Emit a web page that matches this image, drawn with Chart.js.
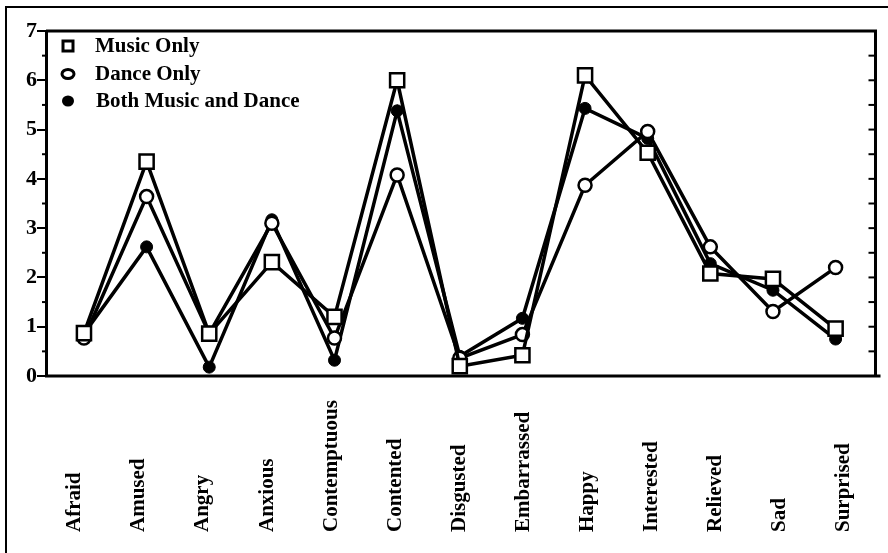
<!DOCTYPE html>
<html>
<head>
<meta charset="utf-8">
<script src="https://cdn.jsdelivr.net/npm/chart.js@4.4.0/dist/chart.umd.min.js"></script>
<style>
  html, body { margin: 0; padding: 0; background: #fff; }
  #wrap { width: 888px; height: 553px; }
</style>
</head>
<body>
<div id="wrap"><canvas id="myChart" width="888" height="553"></canvas></div>
<script>
const emotions = ['Afraid', 'Amused', 'Angry', 'Anxious', 'Contemptuous', 'Contented', 'Disgusted',
  'Embarrassed', 'Happy', 'Interested', 'Relieved', 'Sad', 'Surprised'];

const musicOnly = [0.87, 4.35, 0.86, 2.31, 1.2, 6.0, 0.2, 0.42, 6.1, 4.53, 2.08, 1.97, 0.96];
const danceOnly = [0.77, 3.64, 0.86, 3.1, 0.77, 4.08, 0.36, 0.84, 3.87, 4.96, 2.62, 1.31, 2.2];
const bothMusicDance = [0.86, 2.62, 0.18, 3.17, 0.32, 5.38, 0.4, 1.17, 5.43, 4.82, 2.28, 1.74, 0.75];

const yTicks = [0, 1, 2, 3, 4, 5, 6, 7];

const serif = '"Liberation Serif", "Times New Roman", serif';

function toPoints(arr) {
  return arr.map((v, i) => ({ x: i, y: v }));
}

// frame, borders, minor ticks, legend and rotated category labels
const decorations = {
  id: 'decorations',
  afterDraw(chart) {
    const c = chart.ctx;
    const a = chart.chartArea;
    const y = chart.scales.y;
    const xl = chart.scales.xl;
    c.save();
    c.strokeStyle = '#000';
    c.fillStyle = '#000';

    // outer frame (top + left)
    c.lineWidth = 2;
    c.beginPath();
    c.moveTo(6, 553);
    c.lineTo(6, 7);
    c.lineTo(888, 7);
    c.stroke();

    // plot box
    c.lineWidth = 3;
    c.beginPath();
    c.moveTo(a.left, a.top);
    c.lineTo(a.right, a.top);
    c.lineTo(a.right, a.bottom);
    c.stroke();
    c.beginPath();
    c.moveTo(a.left - 1, a.bottom);
    c.lineTo(a.right + 5, a.bottom);
    c.stroke();

    // minor ticks left, all half ticks right
    c.lineWidth = 2;
    for (let v = 0.5; v < 7; v += 0.5) {
      const py = y.getPixelForValue(v);
      if (v % 1 !== 0) {
        c.beginPath();
        c.moveTo(a.left - 4, py);
        c.lineTo(a.left, py);
        c.stroke();
      }
      c.beginPath();
      c.moveTo(a.right - 7, py);
      c.lineTo(a.right, py);
      c.stroke();
    }

    // legend
    const rows = [
      { label: 'Music Only', style: 'square' },
      { label: 'Dance Only', style: 'open' },
      { label: 'Both Music and Dance', style: 'filled' }
    ];
    const ly = [46, 74, 101];
    c.font = 'bold 21px ' + serif;
    c.textBaseline = 'middle';
    c.textAlign = 'left';
    rows.forEach((r, i) => {
      const cx = 68, cy = ly[i];
      c.lineWidth = 3;
      if (r.style === 'square') {
        c.fillStyle = '#fff';
        c.fillRect(cx - 5, cy - 5, 10, 10);
        c.strokeRect(cx - 5, cy - 5, 10, 10);
      } else if (r.style === 'open') {
        c.fillStyle = '#fff';
        c.beginPath();
        c.ellipse(cx, cy, 6, 4.5, 0, 0, Math.PI * 2);
        c.fill();
        c.stroke();
      } else {
        c.fillStyle = '#000';
        c.beginPath();
        c.ellipse(cx, cy, 6, 5.5, 0, 0, Math.PI * 2);
        c.fill();
      }
      c.fillStyle = '#000';
      c.fillText(r.label, i === 2 ? 96 : 95, cy + 1);
    });

    // rotated category labels, bottom aligned
    c.font = 'bold 21px ' + serif;
    c.textAlign = 'left';
    c.textBaseline = 'middle';
    emotions.forEach((lab, i) => {
      const px = xl.getPixelForValue(i);
      c.save();
      c.translate(px, 532);
      c.rotate(-Math.PI / 2);
      c.fillText(lab, 0, 0);
      c.restore();
    });
    c.restore();
  }
};

const ctx = document.getElementById('myChart');

new Chart(ctx, {
  type: 'line',
  data: {
    datasets: [{
      label: 'Music Only',
      data: toPoints(musicOnly),
      borderColor: '#000',
      borderWidth: 3.5,
      pointStyle: 'rect',
      pointRadius: 10,
      pointBackgroundColor: '#fff',
      pointBorderColor: '#000',
      pointBorderWidth: 2.5
    }, {
      label: 'Dance Only',
      data: toPoints(danceOnly),
      borderColor: '#000',
      borderWidth: 3.5,
      pointStyle: 'circle',
      pointRadius: 6.5,
      pointBackgroundColor: '#fff',
      pointBorderColor: '#000',
      pointBorderWidth: 2.5
    }, {
      label: 'Both Music and Dance',
      data: toPoints(bothMusicDance),
      borderColor: '#000',
      borderWidth: 3.5,
      pointStyle: 'circle',
      pointRadius: 6,
      pointBackgroundColor: '#000',
      pointBorderColor: '#000',
      pointBorderWidth: 1
    }]
  },
  options: {
    responsive: false,
    animation: false,
    events: [],
    layout: { padding: { left: 0, top: 31, right: 11, bottom: 177 } },
    plugins: {
      legend: { display: false },
      tooltip: { enabled: false }
    },
    elements: { line: { tension: 0 } },
    scales: {
      x: {
        type: 'linear',
        display: false,
        min: -0.606,
        max: 12.637
      },
      xl: {
        type: 'linear',
        display: false,
        min: -0.452,
        max: 12.498
      },
      y: {
        min: 0,
        max: 7,
        afterFit(scale) { scale.width = 46; },
        afterBuildTicks(scale) { scale.ticks = yTicks.map(v => ({ value: v })); },
        border: { display: true, color: '#000', width: 3 },
        grid: { drawOnChartArea: false, color: '#000', tickLength: 9, lineWidth: 2 },
        ticks: {
          color: '#000',
          padding: 0,
          font: { family: serif, weight: 'bold', size: 22 }
        }
      }
    }
  },
  plugins: [decorations]
});
</script>
</body>
</html>
